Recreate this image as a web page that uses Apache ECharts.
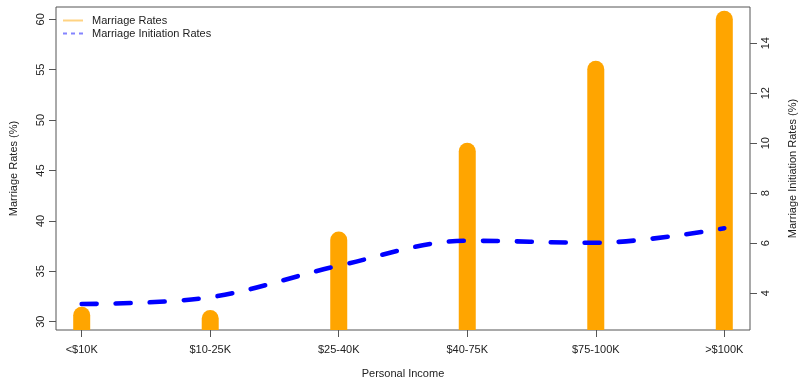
<!DOCTYPE html>
<html>
<head>
<meta charset="utf-8">
<script src="https://cdn.jsdelivr.net/npm/echarts@6/dist/echarts.min.js"></script>
<style>
html,body{margin:0;padding:0;background:#fff;}
#c{width:799px;height:378px;}
</style>
</head>
<body>
<div id="c"></div>
<script>
const categories = ['<$10K', '$10-25K', '$25-40K', '$40-75K', '$75-100K', '>$100K'];
const marriageRates = [30.64, 30.32, 38.1, 46.9, 55.05, 60.0];
const initiationRates = [3.57, 3.84, 5.1, 6.1, 6.02, 6.6];
const leftTicks = [30, 35, 40, 45, 50, 55, 60];
const rightTicks = [4, 6, 8, 10, 12, 14];
const xTicks = categories.map((c, i) => i + 1);

const font = 'Liberation Sans, Arial, sans-serif';
const txt = '#222';

const chart = echarts.init(document.getElementById('c'), null, {renderer: 'canvas'});
chart.setOption({
  animation: false,
  backgroundColor: '#fff',
  grid: {left: 56, right: 49, top: 7, bottom: 48, outerBoundsMode: 'none', containLabel: false,
    show: true, borderColor: '#555', borderWidth: 1, backgroundColor: 'transparent'},
  legend: {
    orient: 'vertical', left: 58, top: 9, itemWidth: 20, itemHeight: 2, itemGap: 0,
    textStyle: {fontFamily: font, fontSize: 11, color: txt, lineHeight: 13, padding: [0, 0, 0, 4]},
    data: [
      {name: 'Marriage Rates', icon: 'path://M0,0H20V2H0Z', itemStyle: {color: '#FFD382'}},
      {name: 'Marriage Initiation Rates', icon: 'path://M0,0H4V2H0Z M8,0H12V2H8Z M16,0H20V2H16Z', itemStyle: {color: '#8484FF'}}
    ]
  },
  xAxis: {
    type: 'value', min: 0.8, max: 6.2,
    name: 'Personal Income', nameLocation: 'middle', nameGap: 38,
    nameTextStyle: {fontFamily: font, fontSize: 11, color: txt},
    axisLine: {show: false},
    axisTick: {show: true, length: 7, customValues: xTicks, lineStyle: {color: '#555'}},
    axisLabel: {customValues: xTicks, margin: 14, fontFamily: font, fontSize: 11, color: txt,
      formatter: v => categories[Math.round(v) - 1]},
    splitLine: {show: false}
  },
  yAxis: [
    {
      type: 'value', min: 29.18, max: 61.22, position: 'left',
      name: 'Marriage Rates (%)', nameLocation: 'middle', nameGap: 37, nameRotate: 90,
      nameTextStyle: {fontFamily: font, fontSize: 11, color: txt},
      axisLine: {show: false},
      axisTick: {show: true, length: 7, customValues: leftTicks, lineStyle: {color: '#555'}},
      axisLabel: {customValues: leftTicks, rotate: 90, margin: 10, fontFamily: font, fontSize: 11, color: txt},
      splitLine: {show: false}
    },
    {
      type: 'value', min: 2.53, max: 15.45, position: 'right',
      name: 'Marriage Initiation Rates (%)', nameLocation: 'middle', nameGap: 37, nameRotate: 90,
      nameTextStyle: {fontFamily: font, fontSize: 11, color: txt},
      axisLine: {show: false},
      axisTick: {show: true, length: 7, customValues: rightTicks, lineStyle: {color: '#555'}},
      axisLabel: {customValues: rightTicks, rotate: 90, margin: 10, fontFamily: font, fontSize: 11, color: txt},
      splitLine: {show: false}
    }
  ],
  series: [
    {
      name: 'Marriage Rates', type: 'custom', yAxisIndex: 0, clip: true, z: 2,
      itemStyle: {color: '#FFA500'},
      data: marriageRates.map((v, i) => [i + 1, v]),
      renderItem: function (params, api) {
        const top = api.coord([api.value(0), api.value(1)]);
        const bottom = params.coordSys.y + params.coordSys.height + 12;
        return {
          type: 'line',
          shape: {x1: top[0], y1: bottom, x2: top[0], y2: top[1]},
          style: {stroke: '#FFA500', lineWidth: 17, lineCap: 'round', fill: null}
        };
      }
    },
    {
      name: 'Marriage Initiation Rates', type: 'line', yAxisIndex: 1, z: 3,
      smooth: 0.35, showSymbol: false, symbol: 'none',
      data: initiationRates.map((v, i) => [i + 1, v]),
      itemStyle: {color: '#0000FF'},
      lineStyle: {color: '#0000FF', width: 4.6, type: [15, 19], cap: 'round'}
    }
  ]
});
</script>
</body>
</html>
